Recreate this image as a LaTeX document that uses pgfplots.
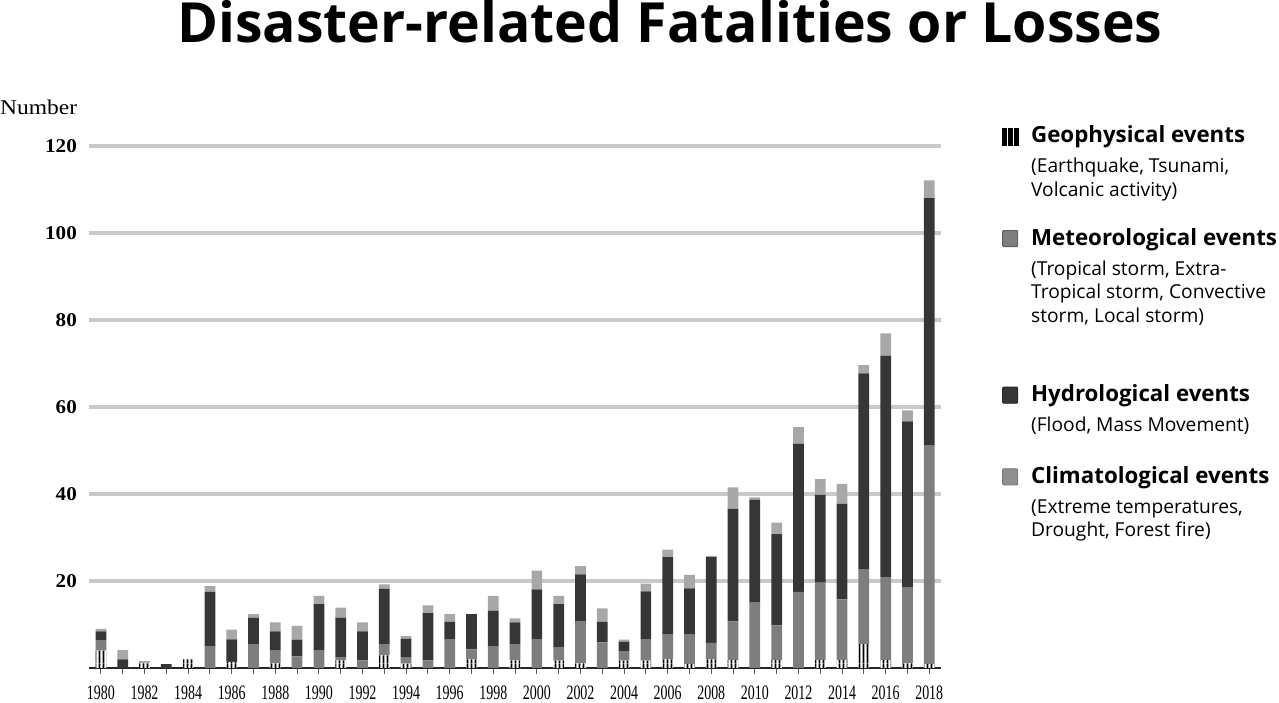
\documentclass[border=0pt]{standalone}
\usepackage{fontspec}
\setmainfont{Liberation Serif}
\newfontfamily\osans{Open Sans}
\usepackage{graphicx}
\usepackage{pgfplots}
\usepackage{pgfplotstable}
\pgfplotsset{compat=1.18}
\usetikzlibrary{patterns}
% stripe period = one fifth of the year pitch, so every bar shows black-white-black-white-black
\pgfdeclarepatternformonly{vstripes}{\pgfpointorigin}{\pgfpoint{4.3595pt}{40pt}}{\pgfpoint{4.3595pt}{40pt}}{%
  \pgfpathrectangle{\pgfpointorigin}{\pgfpoint{1.6565pt}{40pt}}\pgfusepath{fill}%
  \pgfpathrectangle{\pgfpoint{4.016pt}{0pt}}{\pgfpoint{0.3435pt}{40pt}}\pgfusepath{fill}}
\definecolor{met}{HTML}{7E7E7E}
\definecolor{hyd}{HTML}{363636}
\definecolor{cli}{HTML}{A8A8A8}
\definecolor{gridc}{HTML}{C9C9C9}
\newcommand\sx[1]{\scalebox{0.68}[1]{\fontsize{20.5}{20.5}\selectfont #1}}
\newcommand\sy[1]{\scalebox{1.08}[1]{\fontsize{19.5}{19.5}\selectfont\bfseries #1}}
\newcommand\lent[3]{\parbox[t]{270pt}{\raggedright\osans\fontsize{19.2}{23.5}\selectfont\rule{0pt}{#1}{\fontsize{22.3}{23.5}\selectfont\bfseries #2}\\[6.5pt]#3\rule[-5pt]{0pt}{5pt}}}

\pgfplotstableread{
year geo met hyd cli
1980 4.0 2.3 2.1 0.6
1981 0 0 2.0 2.1
1982 1.1 0 0 0.5
1983 0 0 0.9 0
1984 2.0 0 0 0
1985 0 5.0 12.5 1.3
1986 1.4 0 5.2 2.2
1987 0 5.5 6.1 0.8
1988 1.1 2.9 4.4 2.1
1989 0 2.7 3.8 3.2
1990 0 4.0 10.7 1.9
1991 1.75 0.75 9.1 2.3
1992 0 1.75 6.65 2.1
1993 2.9 2.6 12.7 1.0
1994 1.0 1.5 4.2 0.6
1995 0 1.75 10.85 1.8
1996 0 6.5 4.1 1.8
1997 2.0 2.3 8.1 0
1998 0 5.0 8.2 3.4
1999 1.75 3.75 5.0 0.9
2000 0 6.5 11.6 4.3
2001 1.7 3.1 9.9 1.9
2002 1.1 9.7 10.7 1.9
2003 0 5.9 4.7 3.1
2004 1.7 2.2 2.1 0.5
2005 1.7 4.8 11.1 1.8
2006 2.0 5.7 17.8 1.7
2007 0.9 6.8 10.6 3.1
2008 2.0 3.8 19.7 0.3
2009 1.8 8.9 25.9 4.9
2010 0 15.0 23.7 0.5
2011 1.8 8.0 21.0 2.6
2012 0 17.5 34.1 3.8
2013 1.8 17.8 20.2 3.6
2014 1.8 14.0 21.9 4.6
2015 5.5 17.1 45.1 1.9
2016 1.8 19.1 50.9 5.1
2017 1.1 17.5 38.1 2.5
2018 0.9 50.2 56.9 4.1
}\data

\begin{document}
\begin{tikzpicture}
\useasboundingbox (0pt,0pt) rectangle (1279pt,703pt);
\begin{axis}[
  at={(88.5pt,35pt)}, anchor=south west,
  width=852.5pt, height=522pt, scale only axis,
  xmin=1979.43, xmax=2018.54, ymin=0, ymax=120,
  enlargelimits=false,
  ybar stacked, bar width=10.72pt,
  axis x line=bottom, axis y line=left,
  y axis line style={draw=none},
  x axis line style={-, line width=1.2pt, black!85},
  xtick={1980,1982,...,2018},
  xticklabels={\sx{1980},\sx{1982},\sx{1984},\sx{1986},\sx{1988},\sx{1990},\sx{1992},\sx{1994},\sx{1996},\sx{1998},\sx{2000},\sx{2002},\sx{2004},\sx{2006},\sx{2008},\sx{2010},\sx{2012},\sx{2014},\sx{2016},\sx{2018}},
  minor xtick={1981,1983,...,2017},
  xtick align=outside,
  major tick length=6pt, minor tick length=6pt,
  tick style={black!65, line width=1pt},
  ytick={20,40,...,120},
  yticklabels={\sy{20},\sy{40},\sy{60},\sy{80},\sy{100},\sy{120}},
  ytick style={draw=none},
  ymajorgrids, major grid style={line width=4pt, gridc},
  xticklabel style={anchor=base, inner sep=0pt, yshift=-25.5pt},
  yticklabel style={anchor=east, inner sep=0pt, xshift=-8.5pt},
  legend style={draw=none, fill=none, inner sep=0pt, outer sep=0pt,
    at={(1.0716,1.0446)}, anchor=north west, row sep=23.8pt, column sep=12.7pt,
    nodes={inner sep=0pt, outer sep=0pt, text depth=}, cells={anchor=base west}},
]
\addlegendimage{legend image code/.code={\fill[black] (0pt,-2pt) rectangle (3.8pt,15pt); \fill[black] (6.1pt,-2pt) rectangle (9.9pt,15pt); \fill[black] (12.2pt,-2pt) rectangle (16pt,15pt);}}
\addlegendentry{\lent{20pt}{Geophysical events}{(Earthquake, Tsunami,\\Volcanic activity)}}
\addlegendimage{legend image code/.code={\filldraw[fill=met, draw=met!75!black, line width=0.8pt, rounded corners=1pt] (0.4pt,-1.6pt) rectangle (15.6pt,14.6pt);}}
\addlegendentry{\lent{20pt}{Meteorological events}{(Tropical storm, Extra-\\Tropical storm, Convective\\storm, Local storm)}}
\addlegendimage{legend image code/.code={\filldraw[fill=hyd, draw=hyd!75!black, line width=0.8pt, rounded corners=1pt] (0.4pt,-1.6pt) rectangle (15.6pt,14.6pt);}}
\addlegendentry{\lent{50.9pt}{Hydrological events}{(Flood, Mass Movement)}}
\addlegendimage{legend image code/.code={\filldraw[fill=cli!85!black, draw=cli!70!black, line width=0.8pt, rounded corners=1pt] (0.4pt,-1.6pt) rectangle (15.6pt,14.6pt);}}
\addlegendentry{\lent{22.8pt}{Climatological events}{(Extreme temperatures,\\Drought, Forest fire)}}

\addplot[fill=white, draw=none, postaction={pattern=vstripes}] table[x=year,y=geo]{\data};
\addplot[fill=met, draw=none] table[x=year,y=met]{\data};
\addplot[fill=hyd, draw=none] table[x=year,y=hyd]{\data};
\addplot[fill=cli, draw=none] table[x=year,y=cli]{\data};
\end{axis}
\node[anchor=base, inner sep=0pt, font=\osans\bfseries\fontsize{55.4}{60}\selectfont] at (670pt,660pt) {Disaster-related Fatalities or Losses};
\node[anchor=base west, inner sep=0pt] at (0pt,588.7pt) {\scalebox{1.12}[1]{\fontsize{21}{21}\selectfont Number}};
\end{tikzpicture}
\end{document}
